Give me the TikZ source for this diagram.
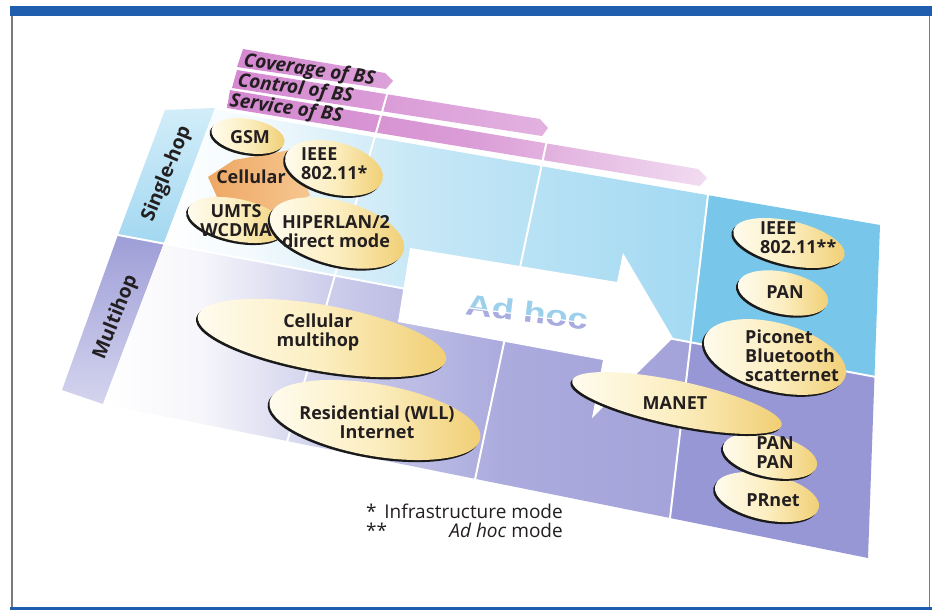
\documentclass[tikz,border=0pt]{standalone}
\usepackage{fontspec}
\setmainfont{Open Sans}
\newfontfamily\adfont{Liberation Sans}
\definecolor{ink}{HTML}{231F20}
\definecolor{framebl}{HTML}{1F5DAE}
\definecolor{framegr}{HTML}{7A7A7A}
\definecolor{barA}{HTML}{D488D0}
\definecolor{barB}{HTML}{DDA2DA}
\definecolor{barC}{HTML}{E2B2E0}
\definecolor{barM}{HTML}{DA9CD6}
\definecolor{barD}{HTML}{F2DCF1}
\definecolor{skyA}{HTML}{F3FAFD}
\definecolor{skyB}{HTML}{C6E7F6}
\definecolor{skyC}{HTML}{A2D9F2}
\definecolor{skyD}{HTML}{78C6EA}
\definecolor{lavA}{HTML}{F6F6FB}
\definecolor{lavB}{HTML}{CACAEA}
\definecolor{lavC}{HTML}{ABABDE}
\definecolor{lavD}{HTML}{A3A3DA}
\definecolor{lavE}{HTML}{9797D6}
\definecolor{skyS1}{HTML}{D2EDF9}
\definecolor{skyS2}{HTML}{A3D8F1}
\definecolor{lavS1}{HTML}{9E9ED8}
\definecolor{lavS2}{HTML}{D4D4EE}
\definecolor{yelA}{HTML}{FFFCEF}
\definecolor{yelB}{HTML}{FCEEC0}
\definecolor{yelC}{HTML}{F0CE72}
\definecolor{orA}{HTML}{EEA764}
\definecolor{orB}{HTML}{F6C790}
\definecolor{edge}{HTML}{1A1A1A}
\definecolor{adblue}{HTML}{9CCFEC}
\definecolor{adlav}{HTML}{ABABDF}
\pgfdeclarehorizontalshading{singleshade}{100bp}{color(0bp)=(white); color(25bp)=(white); color(33bp)=(skyA); color(48.5bp)=(skyB); color(75bp)=(skyC); color(100bp)=(skyC)}
\pgfdeclarehorizontalshading{multishade}{100bp}{color(0bp)=(white); color(25bp)=(white); color(33.3bp)=(lavA); color(45.2bp)=(lavB); color(58.8bp)=(lavC); color(75bp)=(lavD); color(100bp)=(lavD)}
\tikzset{
  lbl/.style={font=\bfseries\fontsize{18}{19}\selectfont, text=ink, inner sep=0pt, align=center},
  lbll/.style={lbl, align=left, anchor=west},
  barlbl/.style={font=\bfseries\itshape\fontsize{19}{20}\selectfont, text=ink, inner sep=0pt, anchor=base west, rotate=-8},
  striplbl/.style={font=\bfseries\fontsize{19.5}{21}\selectfont, text=ink, inner sep=0pt, rotate=68},
  fn/.style={font=\fontsize{19}{20}\selectfont, text=ink, inner sep=0pt},
  adhoc/.style={font=\adfont\bfseries\fontsize{29}{30}\selectfont, inner sep=0pt, rotate=-7, xscale=1.25},
  gridline/.style={draw=white, line width=2pt},
  blobfill/.style={left color=yelA, right color=yelC, middle color=yelB},
}
\newcommand{\yblob}[5]{%
  \fill[edge, rotate around={#5:(#1,#2)}] (#1-1.4,#2+2.4) ellipse [x radius=#3pt, y radius=#4pt];
  \shade[blobfill, rotate around={#5:(#1,#2)}] (#1,#2) ellipse [x radius=#3pt, y radius=#4pt];
}
\begin{document}
\begin{tikzpicture}[x=1pt, y=-1pt]
\useasboundingbox (0,0) rectangle (935,610);
\fill[white] (0,0) rectangle (935,610);
% frame
\fill[framebl] (10,6.5) rectangle (932,16);
\fill[framebl] (10,606.5) rectangle (932,610);
\draw[framegr, line width=1.6pt] (11.8,16) -- (11.8,606.5);
\draw[framegr, line width=1.6pt] (929.5,16) -- (929.5,606.5);
% bars
\shade[left color=barA, right color=barB] (243,49) -- (385,73) -- (393,81) -- (386,89) -- (237,67) -- cycle;
\shade[left color=barA, right color=barC] (237,70) -- (540,119) -- (548,128) -- (542,136) -- (232,88) -- cycle;
\shade[left color=barA, right color=barD, middle color=barM] (230,90) -- (698,169) -- (707,178) -- (700,186) -- (227,108) -- cycle;
\node[barlbl] (cov) at (243,66) {Coverage of BS};
\node[barlbl] (ctl) at (237,86) {Control of BS};
\node[barlbl] (svc) at (229,106) {Service of BS};
% strip
\shade[top color=skyS1, bottom color=skyS2] (165,110) -- (215,108) -- (164,243) -- (118,235) -- cycle;
\shade[top color=lavS1, bottom color=lavS2] (118,235) -- (164,243) -- (103,404) -- (62,390) -- cycle;
\node[striplbl] (single) at (167,174) {Single-hop};
\node[striplbl] (multi) at (116,317) {Multihop};
% board
\shade[shading=singleshade] (214.5,109.5) -- (708,195.2) -- (690.7,342) -- (164,243) -- cycle;
\fill[skyD] (708,195.2) -- (880,225) -- (874.5,376) -- (690.7,342) -- cycle;
\shade[shading=multishade] (164,243) -- (690.7,342) -- (670,518) -- (103,404) -- cycle;
\fill[lavE] (690.7,342) -- (874.5,376) -- (868,558) -- (670,518) -- cycle;
% grid lines
\draw[gridline] (388,91) -- (287,442);
\draw[gridline] (547,140) -- (475,479.5);
\draw[gridline] (708,195) -- (670,518);
\draw[gridline] (118,235) -- (876,377);
% big arrow
\fill[white] (410,248) -- (617,282) -- (623,253) -- (673,338) -- (592,418) -- (603,360) -- (398,322) -- cycle;
\node[adhoc, text=adblue] (adhoc) at (527,312) {Ad hoc};
\begin{scope}
\clip (430,302.8) -- (630,328.8) -- (630,360) -- (430,360) -- cycle;
\node[adhoc, text=adlav] at (527,312) {Ad hoc};
\end{scope}
\draw[white, line width=1.2pt] (430,302.8) -- (630,328.8);
% single-hop, infrastructure side
\shade[left color=orA, right color=orB] (208,177) -- (234,160) -- (290,150) -- (310,195) -- (282,214) -- (222,208) -- cycle;
\node[lbl] (cell) at (251,177) {Cellular};
\yblob{248}{136}{37}{17}{-10}
\node[lbl] (gsm) at (250,137) {GSM};
\yblob{334}{168}{50}{26}{-14}
\node[lbll] (ieee1) at (301,164) {IEEE\\802.11*};
\yblob{237}{220}{50}{21}{-12}
\node[lbl] (umts) at (236,221) {UMTS\\WCDMA};
\yblob{337}{233}{69}{32}{-15}
\node[lbl] (hiper) at (336,232) {HIPERLAN/2\\direct mode};
% multihop, infrastructure side
\yblob{322}{338}{126}{33}{-10}
\node[lbl] (cellm) at (318,332) {Cellular\\multihop};
\yblob{375}{420}{107}{36}{-10}
\node[lbl] (resi) at (377,422) {Residential (WLL)\\Internet};
% ad hoc side
\yblob{789}{243}{57}{22}{-13}
\node[lbll] (ieee2) at (760,238) {IEEE\\802.11**};
\yblob{783}{293}{46}{21}{-12}
\node[lbl] (pan1) at (785,292) {PAN};
\yblob{775}{357}{73}{34}{-15}
\node[lbll] (pico) at (745,356) {Piconet\\Bluetooth\\scatternet};
\yblob{767}{497}{53}{23}{-12}
\node[lbl] (prnet) at (773,500) {PRnet};
\yblob{770}{456}{48}{21}{-12}
\node[lbl] (pan2) at (775,453) {PAN\\PAN};
\yblob{677}{403}{107}{22}{-12}
\node[lbl] (manet) at (675,403) {MANET};
% footnote
\node[fn, anchor=base west] (st1) at (366,518) {*};
\node[fn, anchor=base east] (fn1) at (563,518) {Infrastructure mode};
\node[fn, anchor=base west] (st2) at (366,537) {**};
\node[fn, anchor=base east] (fn2) at (563,537) {\textit{Ad hoc} mode};
\end{tikzpicture}
\end{document}
